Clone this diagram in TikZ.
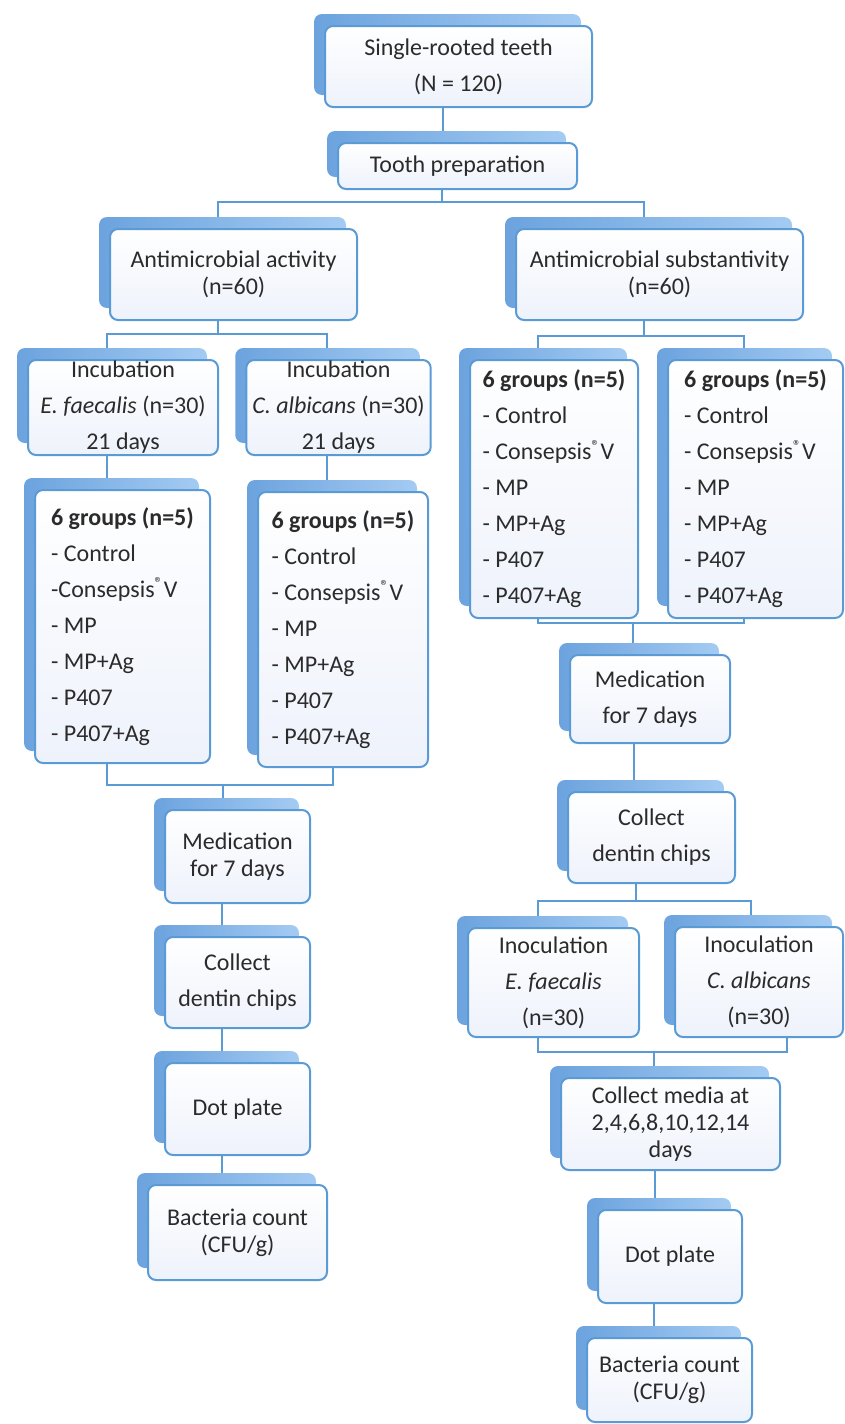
\documentclass[tikz,border=0pt]{standalone}
\usepackage{fontspec}
\setmainfont{Carlito}
\usepackage{xcolor}
\usetikzlibrary{shadows, backgrounds}

\definecolor{boxblue}{HTML}{5B9BD5}
\definecolor{boxfill}{HTML}{EEF2FB}
\definecolor{slabdark}{HTML}{6CA3DE}
\definecolor{slablight}{HTML}{A4CBF2}
\definecolor{textgray}{HTML}{2B2B2B}

\begin{document}
\begin{tikzpicture}[x=0.5pt, y=-0.5pt,
    box/.style={draw=boxblue, line width=1pt, rounded corners=4pt, top color=white, bottom color=boxfill,
      text=textgray, align=center, inner xsep=3pt, inner ysep=0pt, font=\fontsize{12}{13.5}\selectfont,
      general shadow={shadow xshift=-5.5pt, shadow yshift=6pt, left color=slabdark, right color=slablight}},
    loose/.style={font=\fontsize{12}{18}\selectfont},
    link/.style={draw=boxblue, line width=1pt}]
      \useasboundingbox (0,0) rectangle (845,1424);

      \node[box, loose, minimum width=133.5pt, minimum height=40.5pt]  (top)   at (458.5,  66.5)  {Single-rooted teeth \\ (N = 120)};
      \node[box, minimum width=119.5pt, minimum height=23pt]           (prep)  at (457.5,   166)  {Tooth preparation};

      \node[box, minimum width=123.5pt, minimum height=45.5pt]         (act)   at (233.5, 274.5)  {Antimicrobial activity \\ (n=60)};
      \node[box, minimum width=143.5pt, minimum height=45.5pt]         (subst) at (659.5, 274.5)  {Antimicrobial substantivity \\ (n=60)};

      \node[box, loose, minimum width=95pt, minimum height=47.5pt]     (incE)  at (  123, 407.5)  {Incubation \\ \textit{E. faecalis} (n=30) \\ 21 days};
      \node[box, loose, minimum width=91.5pt, minimum height=47.5pt]   (incC)  at (338.5, 407.5)  {Incubation \\ \textit{C. albicans} (n=30) \\ 21 days};

      \node[box, loose, align=left, minimum width=87.5pt, minimum height=136.5pt] (grpL) at (122.5, 626.5)
        {\textbf{6 groups (n=5)} \\ - Control \\ -Consepsis\textsuperscript{®}V \\ - MP \\ - MP+Ag \\ - P407 \\ - P407+Ag};
      \node[box, loose, align=left, minimum width=85pt, minimum height=137.5pt]   (grpR) at (  343, 629.5)
        {\textbf{6 groups (n=5)} \\ - Control \\ - Consepsis\textsuperscript{®}V \\ - MP \\ - MP+Ag \\ - P407 \\ - P407+Ag};
      \node[box, loose, align=left, minimum width=84pt, minimum height=129pt]     (grpA) at (  554,   489)
        {\textbf{6 groups (n=5)} \\ - Control \\ - Consepsis\textsuperscript{®}V \\ - MP \\ - MP+Ag \\ - P407 \\ - P407+Ag};
      \node[box, loose, align=left, minimum width=87.5pt, minimum height=129pt]   (grpB) at (755.5,   489)
        {\textbf{6 groups (n=5)} \\ - Control \\ - Consepsis\textsuperscript{®}V \\ - MP \\ - MP+Ag \\ - P407 \\ - P407+Ag};

      \node[box, minimum width=72.5pt, minimum height=46.5pt]          (medL)  at (237.5, 856.5)  {Medication \\ for 7 days};
      \node[box, loose, minimum width=72.5pt, minimum height=45.5pt]   (colL)  at (237.5, 982.5)  {Collect \\ dentin chips};
      \node[box, minimum width=72.5pt, minimum height=46pt]            (dotL)  at (237.5,  1109)  {Dot plate};
      \node[box, minimum width=89.5pt, minimum height=47.5pt]          (bacL)  at (237.5,1232.5)  {Bacteria count \\ (CFU/g)};

      \node[box, loose, minimum width=80pt, minimum height=44pt]       (medR)  at (  650,   699)  {Medication \\ for 7 days};
      \node[box, loose, minimum width=83.5pt, minimum height=45.5pt]   (colR)  at (651.5, 837.5)  {Collect \\ dentin chips};
      \node[box, loose, minimum width=85.5pt, minimum height=54.5pt]   (inocE) at (553.5, 982.5)  {Inoculation \\ \textit{E. faecalis} \\ (n=30)};
      \node[box, loose, minimum width=84pt, minimum height=55pt]       (inocC) at (  759,   982)  {Inoculation \\ \textit{C. albicans} \\ (n=30)};
      \node[box, minimum width=109.5pt, minimum height=46pt]           (media) at (670.5,  1124)  {Collect media at \\ 2,4,6,8,10,12,14 \\ days};
      \node[box, minimum width=72pt, minimum height=46.5pt]            (dotR)  at (  670,1256.5)  {Dot plate};
      \node[box, minimum width=82.5pt, minimum height=42pt]            (bacR)  at (669.5,  1380)  {Bacteria count \\ (CFU/g)};

      \coordinate (jL) at (223,  785);
      \coordinate (jR) at (633,  623);
      \coordinate (jM) at (654, 1052);

      \begin{scope}[on background layer]
        \draw[link] ([xshift=-8pt]top.south) |- (prep);
        \draw[link] ([xshift=-8pt]prep.south) -- ++(0,12) -| ([xshift=-8pt]act.north);
        \draw[link] ([xshift=-8pt]prep.south) -- ++(0,12) -| ([xshift=-8pt]subst.north);

        \draw[link] ([xshift=-8pt]act.south) -- ++(0,13) -| ([xshift=-8pt]incE.north);
        \draw[link] ([xshift=-8pt]act.south) -- ++(0,13) -| ([xshift=-6pt]incC.north);
        \draw[link] ([xshift=-8pt]incE.south) |- (grpL);
        \draw[link] ([xshift=-6pt]incC.south) |- (grpR);
        \draw[link] ([xshift=-8pt]grpL.south) |- (jL);
        \draw[link] ([xshift=-5pt]grpR.south) |- (jL);
        \draw[link] (jL) |- (medL);
        \draw[link] ([xshift=-8pt]medL.south) |- (colL);
        \draw[link] ([xshift=-8pt]colL.south) |- (dotL);
        \draw[link] ([xshift=-8pt]dotL.south) |- (bacL);

        \draw[link] ([xshift=-8pt]subst.south) -- ++(0,15) -| ([xshift=-8pt]grpA.north);
        \draw[link] ([xshift=-8pt]subst.south) -- ++(0,15) -| ([xshift=-6pt]grpB.north);
        \draw[link] ([xshift=-8pt]grpA.south) |- (jR);
        \draw[link] ([xshift=-6pt]grpB.south) |- (jR);
        \draw[link] (jR) |- (medR);
        \draw[link] ([xshift=-8pt]medR.south) |- (colR);
        \draw[link] ([xshift=-8pt]colR.south) -- ++(0,17) -| ([xshift=-8pt]inocE.north);
        \draw[link] ([xshift=-8pt]colR.south) -- ++(0,17) -| ([xshift=-4pt]inocC.north);
        \draw[link] ([xshift=-8pt]inocE.south) |- (jM);
        \draw[link] ([xshift=14pt]inocC.south) |- (jM);
        \draw[link] (jM) |- (media);
        \draw[link] ([xshift=-8pt]media.south) |- (dotR);
        \draw[link] ([xshift=-8pt]dotR.south) |- (bacR);
      \end{scope}
    \end{tikzpicture}
\end{document}
